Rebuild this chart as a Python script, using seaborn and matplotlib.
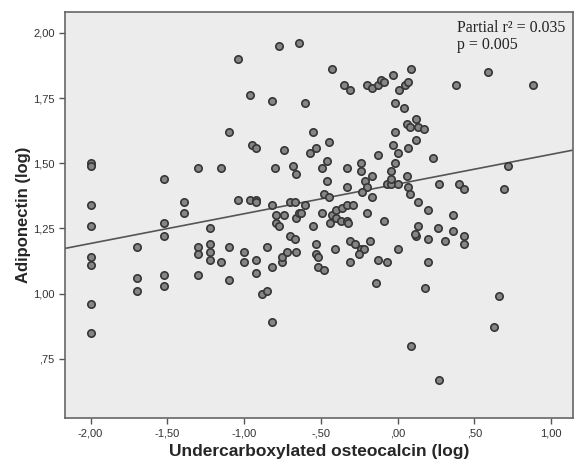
import numpy as np
import pandas as pd
import matplotlib
matplotlib.use("Agg")
import matplotlib.pyplot as plt
from matplotlib.ticker import FuncFormatter
import seaborn as sns

# ===============================
# DATA
# ===============================
ucoc = [
    -2.00, -2.00, -2.00, -2.00, -2.00, -2.00, -2.00, -2.00,
    -1.70, -1.70, -1.70,
    -1.52, -1.52, -1.52, -1.52, -1.52,
    -1.39, -1.39,
    -1.30, -1.30, -1.30, -1.30,
    -1.22, -1.22, -1.22, -1.22,
    -1.15, -1.15, -1.10, -1.10, -1.10, -1.04, -1.04, -1.00, -1.00,
    -0.96, -0.95, -0.92, -0.96, -0.92, -0.92, -0.92, -0.92,
    -0.85, -0.82, -0.88, -0.85, -0.82,
    -0.82, -0.77, -0.74, -0.80, -0.68, -0.66, -0.64,
    -0.82, -0.70, -0.67, -0.79, -0.74, -0.66, -0.79, -0.77, -0.70, -0.67, -0.64,
    -0.75, -0.75, -0.72, -0.66,
    -0.43, -0.35, -0.31, -0.60, -0.55, -0.53, -0.57, -0.45, -0.46, -0.49, -0.46, -0.33, -0.33,
    -0.60, -0.48, -0.45, -0.63, -0.49, -0.43, -0.40, -0.36, -0.33, -0.40, -0.44, -0.37, -0.33,
    -0.55, -0.53, -0.41, -0.31, -0.53, -0.52, -0.52, -0.48, -0.31,
    -0.20, -0.17, -0.13, -0.11, -0.09, -0.03, 0.09, 0.01, 0.05, 0.07, -0.02, 0.04, 0.06,
    0.12, 0.08, 0.13, 0.17, -0.02, -0.03, 0.12, 0.00, 0.07, -0.13, 0.23, -0.02, -0.24,
    -0.24, -0.17, -0.04, 0.06, -0.21, -0.20, -0.07, -0.04, 0.00, 0.07, 0.27, -0.04,
    -0.23, -0.17, 0.08, 0.13, -0.29, -0.20, 0.20, -0.32, -0.09, 0.13, 0.26, 0.12, 0.115,
    0.20, 0.31, -0.28, -0.24, -0.22, -0.25, -0.18, 0.00, -0.13, -0.07, 0.20, -0.14, 0.18,
    0.36, 0.43, 0.43, 0.09, 0.27, 0.66, 0.63,
    0.38, 0.59, 0.88, 0.72, 0.69, 0.40, 0.43, 0.36,
]
adipo = [
    1.50, 1.49, 1.34, 1.26, 1.14, 1.11, 0.96, 0.85,
    1.18, 1.06, 1.01,
    1.44, 1.27, 1.22, 1.07, 1.03,
    1.35, 1.31,
    1.48, 1.18, 1.15, 1.07,
    1.25, 1.19, 1.16, 1.13,
    1.48, 1.12, 1.18, 1.05, 1.62, 1.36, 1.90, 1.16, 1.12,
    1.76, 1.57, 1.56, 1.36, 1.36, 1.35, 1.13, 1.08,
    1.18, 1.10, 1.00, 1.01, 0.89,
    1.74, 1.95, 1.55, 1.48, 1.49, 1.46, 1.96,
    1.34, 1.35, 1.35, 1.30, 1.30, 1.29, 1.27, 1.26, 1.22, 1.21, 1.31,
    1.12, 1.14, 1.16, 1.16,
    1.86, 1.80, 1.78, 1.73, 1.62, 1.56, 1.54, 1.58, 1.51, 1.48, 1.43, 1.48, 1.41,
    1.34, 1.38, 1.37, 1.31, 1.31, 1.30, 1.32, 1.33, 1.34, 1.29, 1.27, 1.28, 1.28,
    1.26, 1.19, 1.17, 1.20, 1.15, 1.14, 1.10, 1.09, 1.12,
    1.80, 1.79, 1.80, 1.82, 1.81, 1.84, 1.86, 1.78, 1.80, 1.81, 1.73, 1.71, 1.65,
    1.67, 1.64, 1.64, 1.63, 1.62, 1.57, 1.59, 1.54, 1.56, 1.53, 1.52, 1.50, 1.50,
    1.47, 1.45, 1.47, 1.45, 1.43, 1.41, 1.42, 1.42, 1.42, 1.41, 1.42, 1.44,
    1.39, 1.37, 1.38, 1.35, 1.34, 1.31, 1.32, 1.27, 1.28, 1.26, 1.25, 1.22, 1.23,
    1.21, 1.20, 1.19, 1.17, 1.17, 1.15, 1.20, 1.17, 1.13, 1.12, 1.12, 1.04, 1.02,
    1.24, 1.22, 1.19, 0.80, 0.67, 0.99, 0.87,
    1.80, 1.85, 1.80, 1.49, 1.40, 1.42, 1.40, 1.30,
]

# partial regression line as drawn in the figure
fit_intercept = 1.42
fit_slope = 0.114

x_ticks = [-2.0, -1.5, -1.0, -0.5, 0.0, 0.5, 1.0]
y_ticks = [0.75, 1.00, 1.25, 1.50, 1.75, 2.00]

df = pd.DataFrame({"ucoc": ucoc, "adipo": adipo})

# ===============================
# STYLE
# ===============================
sns.set_style("ticks")
plt.rcParams["font.family"] = ["Liberation Sans", "DejaVu Sans"]


def spss_fmt(v, pos):
    s = f"{v:.2f}".replace(".", ",")
    if s.startswith("0,"):
        s = s[1:]
    elif s.startswith("-0,"):
        s = "-" + s[2:]
    return s


# ===============================
# PLOT
# ===============================
fig = plt.figure(figsize=(5.74, 4.63), dpi=100)
ax = fig.add_axes([0.113, 0.097, 0.886, 0.877])
ax.set_facecolor("#ececec")

sns.scatterplot(data=df, x="ucoc", y="adipo", ax=ax, s=28,
                color="#858585", edgecolor="#363636", linewidth=1.2, zorder=3)

ax.axline((0, fit_intercept), slope=fit_slope, color="#555555", lw=1.2, zorder=2)

ax.set_xlim(-2.167, 1.145)
ax.set_ylim(0.522, 2.08)
ax.set_xticks(x_ticks)
ax.set_yticks(y_ticks)
ax.xaxis.set_major_formatter(FuncFormatter(spss_fmt))
ax.yaxis.set_major_formatter(FuncFormatter(spss_fmt))
ax.tick_params(labelsize=8, length=4, width=1, color="#555555", labelcolor="#333333")

for sp in ax.spines.values():
    sp.set_color("#666666")
    sp.set_linewidth(1.2)

ax.set_xlabel("Undercarboxylated osteocalcin (log)", fontsize=12.5, fontweight="bold", labelpad=4)
ax.set_ylabel("Adiponectin (log)", fontsize=12, fontweight="bold", labelpad=1)

ax.text(0.772, 0.98, "Partial r\u00b2 = 0.035\np = 0.005", transform=ax.transAxes,
        ha="left", va="top", fontsize=11.5, family=["Liberation Serif", "DejaVu Serif"],
        color="#222222", linespacing=1.1)

plt.savefig("out.png", dpi=100)
